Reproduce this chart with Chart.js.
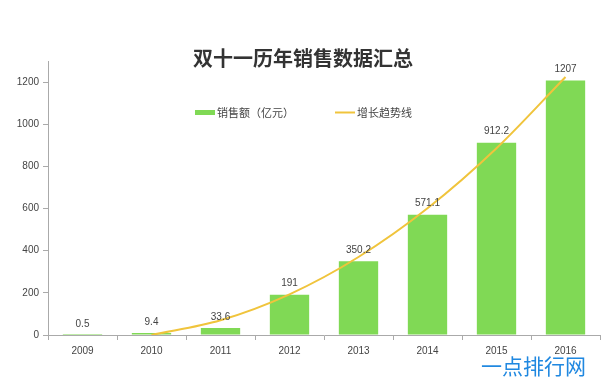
<!DOCTYPE html>
<html>
<head>
<meta charset="utf-8">
<script src="https://cdn.jsdelivr.net/npm/chart.js@4/dist/chart.umd.min.js"></script>
<style>
  html, body { margin: 0; padding: 0; background: #fff; }
  #wrap { width: 601px; height: 382px; position: relative; }
</style>
</head>
<body>
<div id="wrap"><canvas id="chart"></canvas></div>
<script>
const years = ["2009", "2010", "2011", "2012", "2013", "2014", "2015", "2016"];
const sales = [0.5, 9.4, 33.6, 191, 350.2, 571.1, 912.2, 1207];
// trend line (clipped below 0 before 2010)
const trend = [null, 0, 70, 193, 370, 601, 886, 1224];
const yTicks = [0, 200, 400, 600, 800, 1000, 1200];

const titleText = "双十一历年销售数据汇总";
const barLabel = "销售额（亿元）";
const lineLabel = "增长趋势线";
const watermark = "一点排行网";

const green = "#80d955";
const yellow = "#f0c43c";

const decor = {
    id: "decor",
    afterDatasetsDraw(chart) {
        const ctx = chart.ctx;
        const meta = chart.getDatasetMeta(1);
        ctx.save();

        // value labels above bars
        ctx.font = '10px "Liberation Sans", "DejaVu Sans", sans-serif';
        ctx.fillStyle = "#444";
        ctx.textAlign = "center";
        ctx.textBaseline = "middle";
        meta.data.forEach((bar, i) => ctx.fillText(String(sales[i]), bar.x, bar.y - 11));

        // title
        ctx.font = 'bold 20px "Noto Sans CJK SC", sans-serif';
        ctx.fillStyle = "#333";
        ctx.fillText(titleText, 303, 58);

        // legend
        ctx.textAlign = "left";
        ctx.fillStyle = green;
        ctx.fillRect(195, 110, 20, 5);
        ctx.strokeStyle = yellow;
        ctx.lineWidth = 2;
        ctx.beginPath();
        ctx.moveTo(335, 112.5);
        ctx.lineTo(355, 112.5);
        ctx.stroke();
        ctx.font = '11px "Noto Sans CJK SC", sans-serif';
        ctx.fillStyle = "#444";
        ctx.fillText(barLabel, 217, 113);
        ctx.fillText(lineLabel, 357, 113);

        // watermark
        ctx.font = '21px "Noto Sans CJK SC", sans-serif';
        ctx.fillStyle = "#2088e0";
        ctx.fillText(watermark, 481, 366);

        ctx.restore();
    }
};

new Chart(document.getElementById("chart"), {
    data: {
        labels: years,
        datasets: [
            {
                type: "line",
                label: lineLabel,
                data: trend,
                borderColor: yellow,
                borderWidth: 2,
                pointRadius: 0,
                fill: false,
                cubicInterpolationMode: "monotone",
                order: 0
            },
            {
                type: "bar",
                label: barLabel,
                data: sales,
                backgroundColor: green,
                barPercentage: 0.57,
                categoryPercentage: 1,
                order: 1
            }
        ]
    },
    options: {
        responsive: true,
        maintainAspectRatio: false,
        animation: false,
        layout: {padding: {top: 61, right: 1, bottom: 0, left: 0}},
        plugins: {legend: {display: false}, tooltip: {enabled: false}},
        scales: {
            x: {
                grid: {offset: true, drawOnChartArea: false, drawTicks: true, tickLength: 5, color: "#aaa"},
                border: {display: true, color: "#aaa", width: 1},
                ticks: {color: "#444", font: {family: "Liberation Sans", size: 10}, padding: 5},
                afterFit: s => { s.height = 47; }
            },
            y: {
                min: 0,
                max: 1300,
                afterBuildTicks: s => { s.ticks = yTicks.map(v => ({value: v})); },
                grid: {drawOnChartArea: false, drawTicks: true, tickLength: 5, color: "#aaa"},
                border: {display: true, color: "#aaa", width: 1},
                ticks: {color: "#444", font: {family: "Liberation Sans", size: 10}, padding: 4, callback: v => String(v)},
                afterFit: s => { s.width = 48; }
            }
        }
    },
    plugins: [decor]
});
</script>
</body>
</html>
